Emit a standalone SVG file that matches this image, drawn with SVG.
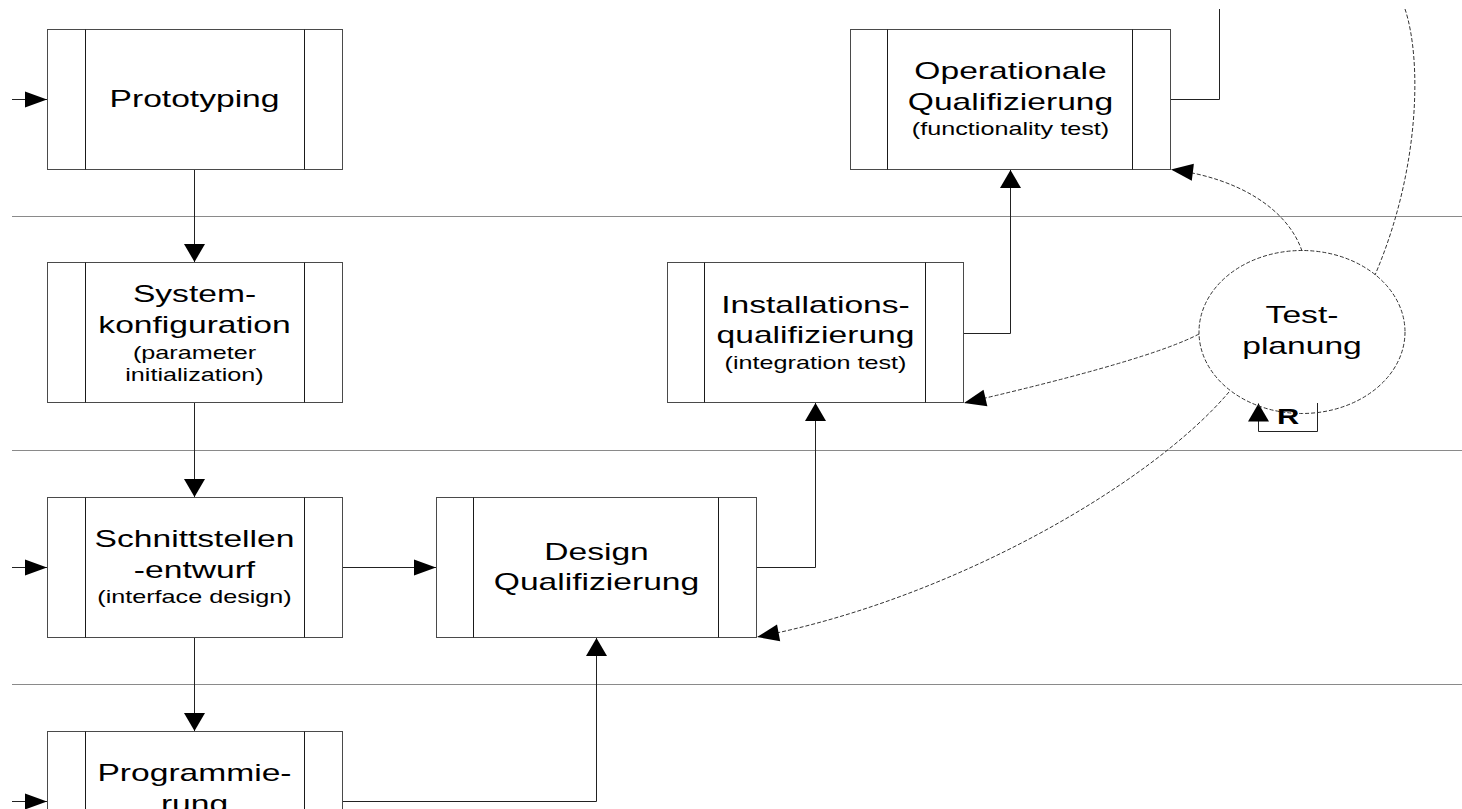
<svg xmlns="http://www.w3.org/2000/svg" width="1462" height="809" viewBox="0 0 1462 809">
  <style>
    .lane{fill:none;stroke:#8a8a8a;stroke-width:1}
    .box{fill:#fff;stroke:#4a4a4a;stroke-width:1}
    .bar{fill:none;stroke:#1a1a1a;stroke-width:1}
    .conn{fill:none;stroke:#222;stroke-width:1}
    .dash{fill:none;stroke:#333;stroke-width:1;stroke-dasharray:4 2}
    .t{font-family:"Liberation Sans",Arial,Helvetica,sans-serif;font-size:24px;text-anchor:middle;fill:#000}
    .s{font-size:18px}
    .b{font-weight:bold;font-size:22px}
    .head{fill:#000;stroke:none}
  </style>
  <defs>
    <!-- horizontal flow arrowhead (wide drawing scale) -->
    <marker id="ah" markerUnits="userSpaceOnUse" markerWidth="24" markerHeight="18" viewBox="-23 -9 24 18" refX="0" refY="0" orient="auto">
      <path class="head" d="M0,0 L-22,-8 L-22,8 Z"/>
    </marker>
    <!-- vertical flow arrowhead -->
    <marker id="av" markerUnits="userSpaceOnUse" markerWidth="20" markerHeight="24" viewBox="-19 -11 20 22" refX="0" refY="0" orient="auto">
      <path class="head" d="M0,0 L-18,-10.5 L-18,10.5 Z"/>
    </marker>
    <!-- arrowhead for dashed planning links -->
    <marker id="ad" markerUnits="userSpaceOnUse" markerWidth="24" markerHeight="20" viewBox="-23 -10 24 20" refX="0" refY="0" orient="auto">
      <path class="head" d="M0,0 L-22,-8.5 L-22,8.5 Z"/>
    </marker>
  </defs>

  <!-- swimlane separators -->
  <g id="lanes">
    <path class="lane" d="M12,216.5 H1462"/>
    <path class="lane" d="M12,450.5 H1462"/>
    <path class="lane" d="M12,684.5 H1462"/>
  </g>

  <!-- connectors -->
  <g id="connectors">
    <path class="conn" d="M12,99.5 H47" marker-end="url(#ah)"/>
    <path class="conn" d="M194.5,169.5 V262" marker-end="url(#av)"/>
    <path class="conn" d="M194.5,402.5 V497" marker-end="url(#av)"/>
    <path class="conn" d="M12,567.5 H47" marker-end="url(#ah)"/>
    <path class="conn" d="M342.5,567.5 H436" marker-end="url(#ah)"/>
    <path class="conn" d="M194.5,637.5 V731" marker-end="url(#av)"/>
    <path class="conn" d="M12,801.5 H47" marker-end="url(#ah)"/>
    <path class="conn" d="M342.5,801.5 H596.5 V638" marker-end="url(#av)"/>
    <path class="conn" d="M756.5,567.5 H815.5 V403" marker-end="url(#av)"/>
    <path class="conn" d="M963.5,333.5 H1010.5 V170" marker-end="url(#av)"/>
    <path class="conn" d="M1170.5,99.5 H1219.5 V9"/>
    <path class="conn" d="M1317.5,403 V431.5 H1258.5 V403.5" marker-end="url(#av)"/>
    <path class="dash" d="M1302,251 C1288,210 1240,178 1171,169.5" marker-end="url(#ad)"/>
    <path class="dash" d="M1199,334 Q1150,360 964,403" marker-end="url(#ad)"/>
    <path class="dash" d="M1229,392 C1150,485 950,600 757,637" marker-end="url(#ad)"/>
    <path class="dash" d="M1405,9 C1422,60 1420,170 1375,275"/>
  </g>

  <g id="prototyping">
    <rect class="box" x="47.5" y="29.5" width="295" height="140"/>
    <path class="bar" d="M85.5,29.5 V169.5 M304.5,29.5 V169.5"/>
    <text class="t" transform="matrix(1.4 0 0 1 194.5 0)" y="107.5">Prototyping</text>
  </g>

  <g id="systemkonfiguration">
    <rect class="box" x="47.5" y="262.5" width="295" height="140"/>
    <path class="bar" d="M85.5,262.5 V402.5 M304.5,262.5 V402.5"/>
    <g transform="matrix(1.4 0 0 1 194.5 0)">
      <text class="t" y="302.5">System-</text>
      <text class="t" y="333">konfiguration</text>
      <text class="t s" y="359.5">(parameter</text>
      <text class="t s" y="381">initialization)</text>
    </g>
  </g>

  <g id="schnittstellenentwurf">
    <rect class="box" x="47.5" y="497.5" width="295" height="140"/>
    <path class="bar" d="M85.5,497.5 V637.5 M304.5,497.5 V637.5"/>
    <g transform="matrix(1.4 0 0 1 194.5 0)">
      <text class="t" y="547">Schnittstellen</text>
      <text class="t" y="578">-entwurf</text>
      <text class="t s" y="603.5">(interface design)</text>
    </g>
  </g>

  <g id="programmierung">
    <rect class="box" x="47.5" y="731.5" width="295" height="120"/>
    <path class="bar" d="M85.5,731.5 V851.5 M304.5,731.5 V851.5"/>
    <g transform="matrix(1.4 0 0 1 194.5 0)">
      <text class="t" y="781.5">Programmie-</text>
      <text class="t" y="812">rung</text>
    </g>
  </g>

  <g id="design-qualifizierung">
    <rect class="box" x="436.5" y="497.5" width="320" height="140"/>
    <path class="bar" d="M473.5,497.5 V637.5 M718.5,497.5 V637.5"/>
    <g transform="matrix(1.4 0 0 1 596.5 0)">
      <text class="t" y="560">Design</text>
      <text class="t" y="590.5">Qualifizierung</text>
    </g>
  </g>

  <g id="installationsqualifizierung">
    <rect class="box" x="667.5" y="262.5" width="296" height="140"/>
    <path class="bar" d="M704.5,262.5 V402.5 M925.5,262.5 V402.5"/>
    <g transform="matrix(1.4 0 0 1 815.5 0)">
      <text class="t" y="313">Installations-</text>
      <text class="t" y="343.5">qualifizierung</text>
      <text class="t s" y="369">(integration test)</text>
    </g>
  </g>

  <g id="operationale-qualifizierung">
    <rect class="box" x="850.5" y="29.5" width="320" height="140"/>
    <path class="bar" d="M887.5,29.5 V169.5 M1132.5,29.5 V169.5"/>
    <g transform="matrix(1.4 0 0 1 1010.5 0)">
      <text class="t" y="79.5">Operationale</text>
      <text class="t" y="110">Qualifizierung</text>
      <text class="t s" y="135.5">(functionality test)</text>
    </g>
  </g>

  <g id="testplanung">
    <ellipse class="dash" cx="1302" cy="332" rx="103" ry="81.5"/>
    <g transform="matrix(1.4 0 0 1 1302 0)">
      <text class="t" y="323.5">Test-</text>
      <text class="t" y="354">planung</text>
    </g>
    <text class="t b" transform="matrix(1.4 0 0 1 1288 0)" y="424">R</text>
  </g>
</svg>
